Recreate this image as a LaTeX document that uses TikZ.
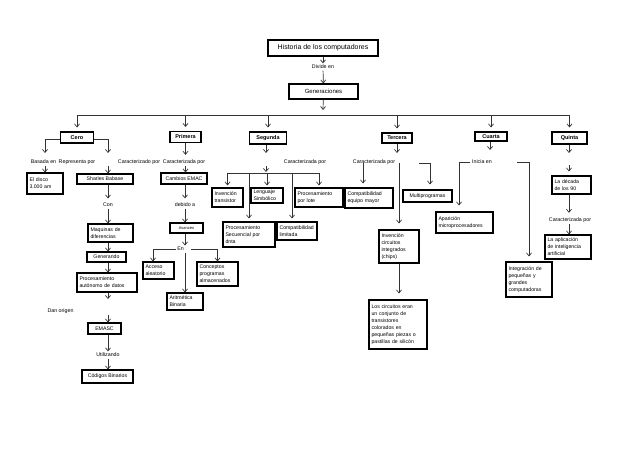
\documentclass[tikz,border=0pt]{standalone}
\usepackage{fontspec}
\setmainfont{Liberation Sans}
\usetikzlibrary{arrows.meta}
\begin{document}
\begin{tikzpicture}[x=1pt, y=-1pt,
        box/.style = {draw, line width=1.1pt, inner xsep=2.5pt, inner ysep=1pt, font=\fontsize{5.2}{7}\selectfont},
        genbox/.style = {box, font=\fontsize{5.5}{7}\selectfont\bfseries},
        txt/.style = {inner sep=1.5pt, font=\fontsize{5.3}{7}\selectfont},
        link/.style = {draw=black!80, line width=0.7pt},
        arr/.style = {link, -{Straight Barb[length=3pt,width=5pt]}}]
        \useasboundingbox (0,0) rectangle (638,452);

        % titulo
        \node[box, font=\fontsize{7}{8}\selectfont, minimum width=110, minimum height=16] (hist) at (323,48) {Historia de los computadores};
        \node[txt] (divide) at (323,67) {Divide en};
        \node[box, font=\fontsize{6}{7}\selectfont, minimum width=69, minimum height=15] (gen) at (323.5,91.5) {Generaciones};

        \node[genbox, minimum width=33, minimum height=11] (cero) at (77,137.5) {Cero};
        \node[genbox, minimum width=31, minimum height=11] (primera) at (185.5,137) {Primera};
        \node[genbox, minimum width=37, minimum height=12] (segunda) at (268,138) {Segunda};
        \node[genbox, minimum width=30, minimum height=10] (tercera) at (397,138) {Tercera};
        \node[genbox, minimum width=32, minimum height=9] (cuarta) at (491,136.5) {Cuarta};
        \node[genbox, minimum width=35, minimum height=12] (quinta) at (569.5,138) {Quinta};

        \draw[arr] (hist) -- (divide);
        \draw[arr] (divide) -- (gen);
        \coordinate (bar) at (323,115);
        \draw[arr] (gen) -- ([yshift=5pt]bar);
        \draw[link] (cero |- bar) -- (quinta |- bar);
        \foreach \g in {cero, primera, segunda, tercera, cuarta, quinta}
            \draw[arr, shorten >=4pt] (\g |- bar) -- (\g);

        % cero
        \node[txt] (basada) at (43.5,162) {Basada en};
        \node[txt] (representa) at (77,162) {Representa por};
        \node[box, minimum width=36, minimum height=21, text width=31, align=left] (disco) at (45,183.5) {El disco\\3.000 am};
        \node[box, minimum width=56, minimum height=10] (sharles) at (105,179) {Sharles Babase};
        \node[txt] (con) at (108,205) {Con};
        \node[box, minimum width=45, minimum height=18, text width=40, align=left] (maquinas) at (110.5,233) {Maquinas de\\diferencias};
        \node[box, minimum width=39, minimum height=10] (generando) at (106.5,257) {Generando};
        \node[box, minimum width=60, minimum height=19, text width=55, align=left] (procaut) at (107,282.5) {Procesamiento\\autónomo de datos};
        \node[txt] (dan) at (60.5,311) {Dan origen};
        \node[box, minimum width=33, minimum height=11] (emasc) at (104.5,328.5) {EMASC};
        \node[txt] (utilizando) at (108,355) {Utilizando};
        \node[box, minimum width=51, minimum height=13] (codigos) at (107.5,376.5) {Códigos Binarios};

        \coordinate (cl) at (45,153);
        \coordinate (cr) at (108,153);
        \draw[arr] ([yshift=-1.5pt]cero.west) -| (cl);
        \draw[arr] ([yshift=-1.5pt]cero.east) -| (cr);
        \draw[arr] (disco |- basada.south) -- (disco);
        \draw[arr] (cr |- representa.south) -- (cr |- sharles.north);
        \draw[arr, shorten >=3pt] (sharles.south -| con) -- (con);
        \draw[arr] (con) -- (con |- maquinas.north);
        \draw[arr] (con |- maquinas.south) -- (con |- generando.north);
        \draw[arr] (con |- generando.south) -- (con |- procaut.north);
        \coordinate (da) at (108,299);
        \coordinate (db) at (108,315);
        \draw[arr] (con |- procaut.south) -- (da);
        \draw[arr] (db) -- (con |- emasc.north);
        \draw[arr] (con |- emasc.south) -- (utilizando);
        \draw[arr] (utilizando) -- (con |- codigos.north);

        % primera
        \node[txt] (carado) at (139,162) {Caracterizado por};
        \node[txt] (carada) at (184,162) {Caracterizada por};
        \node[box, minimum width=46, minimum height=11] (cambios) at (184,178.5) {Cambios EMAC};
        \node[txt] (debido) at (185,205) {debido a};
        \node[box, font=\fontsize{4}{5}\selectfont, minimum width=33, minimum height=10] (avances) at (186.5,228) {Avances};
        \node[txt] (en) at (180.5,249) {En};
        \node[box, minimum width=31, minimum height=17, text width=26, align=left] (acceso) at (158.5,270.5) {Acceso\\aleatorio};
        \node[box, minimum width=41, minimum height=24, text width=36, align=left] (conceptos) at (217.5,274) {Conceptos\\programas\\almacenados};
        \node[box, minimum width=36, minimum height=17, text width=31, align=left] (aritm) at (185,301.5) {Aritmética\\Binaria};

        \draw[arr, shorten >=3pt] (primera) -- (primera |- carada.north);
        \draw[arr] (primera |- carada.south) -- (primera |- cambios.north);
        \draw[arr, shorten >=3pt] (cambios.south -| debido) -- (debido);
        \draw[arr] (debido) -- (debido |- avances.north);
        \draw[arr] (debido |- avances.south) -- (debido |- en.north);
        \draw[arr] (en.west) -| ([xshift=-5.5pt]acceso.north);
        \draw[arr] ([xshift=6pt]en.east) -| (conceptos.north);
        \draw[arr] (debido |- en.south) -- (debido |- aritm.north);

        % segunda
        \node[txt] (carseg) at (305,162) {Caracterizada por};
        \node[box, minimum width=31, minimum height=19, text width=26, align=left] (invtrans) at (227.5,197.5) {Invención\\transistor};
        \node[box, minimum width=32, minimum height=15, text width=27, align=left] (lenguaje) at (267,195.5) {Lenguaje\\Simbólico};
        \node[box, minimum width=48, minimum height=19, text width=43, align=left] (proclote) at (319,197.5) {Procesamiento\\por lote};
        \node[box, minimum width=52, minimum height=25, text width=47, align=left] (procsec) at (249,234.5) {Procesamiento\\Secuencial por\\dnta};
        \node[box, minimum width=40, minimum height=18, text width=35, align=left] (compatlim) at (297,231) {Compatibilidad\\limitada};

        \coordinate (sa) at (266,153);
        \coordinate (sb) at (266,166);
        \coordinate (sbar) at (266,173);
        \draw[arr] (segunda.south -| sa) -- (sa);
        \draw[arr] (sb) -- ([yshift=1pt]sbar);
        \draw[link] (invtrans |- sbar) -- (proclote |- sbar);
        \foreach \b in {invtrans, lenguaje, proclote}
            \draw[arr, shorten >=2pt] (\b |- sbar) -- (\b);
        \draw[arr, shorten >=3pt] (procsec |- sbar) -- (procsec);
        \draw[arr, shorten >=3pt] ([xshift=-5pt]compatlim.north |- sbar) -- ([xshift=-5pt]compatlim.north);

        % tercera
        \node[txt] (carter) at (374,162) {Caracterizada por};
        \node[box, minimum width=48, minimum height=20, text width=43, align=left] (compatmay) at (369,198) {Compatibilidad\\equipo mayor};
        \node[box, minimum width=49, minimum height=12] (multi) at (427.5,196) {Multiprogramas};
        \node[box, minimum width=40, minimum height=33, text width=35, align=left] (invcirc) at (399,246.5) {Invención\\circuitos\\integrados\\(chips)};
        \node[box, minimum width=58, minimum height=49, text width=53, align=left] (circuitos) at (398,324.5) {Los circuitos eran\\un conjunto de\\transistores\\colorados en\\pequeñas piezas o\\pastillas de silicón};

        \coordinate (ta) at (397,153);
        \draw[arr] (tercera.south -| ta) -- (ta);
        \coordinate (tl) at (363,163);
        \coordinate (tm) at (399,163);
        \coordinate (tr) at (419,163);
        \draw[arr, shorten >=4pt] (tl) -- (tl |- compatmay.north);
        \draw[arr, shorten >=6pt] (tm) -- (tm |- invcirc.north);
        \draw[arr, shorten >=5pt] (tr) -| ([xshift=2.5pt]multi.north);
        \draw[arr, shorten >=6pt] (invcirc) -- (invcirc |- circuitos.north);

        % cuarta
        \node[txt] (inicia) at (482,162) {Inicia en};
        \node[box, minimum width=57, minimum height=21, text width=52, align=left] (aparicion) at (464.5,222.5) {Aparición\\microprocesadores};
        \node[box, minimum width=46, minimum height=35, text width=41, align=left] (integracion) at (529,279.5) {Integración de\\pequeñas y\\grandes\\computadoras};

        \coordinate (ca) at (490,150);
        \draw[arr] (cuarta.south -| ca) -- (ca);
        \draw[arr, shorten >=6pt] (inicia.west) -| ([xshift=-5.5pt]aparicion.north);
        \coordinate (ir) at (517,162);
        \draw[arr, shorten >=5pt] (ir) -| (integracion.north);

        % quinta
        \node[box, minimum width=39, minimum height=18, text width=34, align=left] (decada) at (571.5,185) {La década\\de los 90};
        \node[txt] (carquin) at (570,220) {Caracterizada por};
        \node[box, minimum width=46, minimum height=24, text width=41, align=left] (aplicacion) at (568,247) {La aplicación\\de inteligencia\\artificial};

        \coordinate (qa) at (569,153);
        \coordinate (qb) at (569,165);
        \draw[arr] (quinta.south -| qa) -- (qa);
        \draw[arr, shorten >=4pt] (qb) -- (qb |- decada.north);
        \draw[arr, shorten >=3pt] (decada.south -| qa) -- (qa |- carquin.north);
        \draw[arr] (qa |- carquin.south) -- (qa |- aplicacion.north);

    \end{tikzpicture}
\end{document}
